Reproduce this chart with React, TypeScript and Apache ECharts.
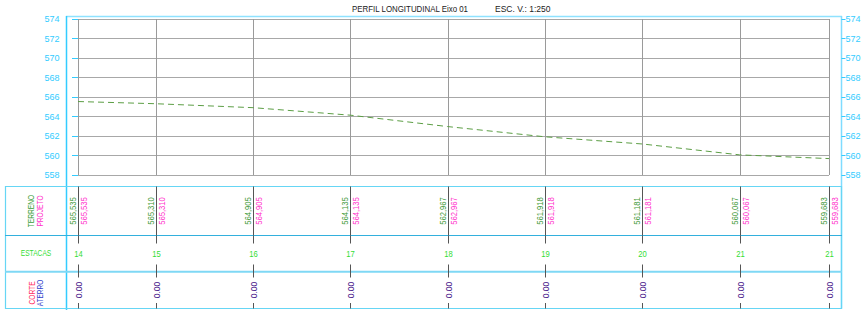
import React, { useEffect, useRef } from "react";
import * as echarts from "echarts";

const estacas = ["14", "15", "16", "17", "18", "19", "20", "21", "21"];
const distancias = [0, 16, 36, 56, 76, 96, 116, 136, 154.4];
const terreno = [565.535, 565.31, 564.905, 564.135, 562.967, 561.918, 561.181, 560.067, 559.683];
const projeto = [565.535, 565.31, 564.905, 564.135, 562.967, 561.918, 561.181, 560.067, 559.683];
const corteAterro = [0, 0, 0, 0, 0, 0, 0, 0, 0];
const yTicks = { min: 558, max: 574, interval: 2 };

const FONT = '"Liberation Sans", Arial, sans-serif';
const CYAN = "#33ccff";

export default function App() {
  const ref = useRef<HTMLDivElement>(null);
  useEffect(() => {
    document.body.style.margin = "0";
    const chart = echarts.init(ref.current!, null, { renderer: "svg" });
    const fmt = (v: number) => v.toFixed(3).replace(".", ",");
    const vline = (x: number, y1: number, y2: number, color: string) => ({
      type: "line",
      shape: { x1: x, y1, x2: x, y2 },
      style: { stroke: color, lineWidth: 1 },
    });
    const rtext = (x: number, y: number, text: string, color: string, size: number, va: string, sx = 1) => ({
      type: "text",
      x,
      y,
      rotation: Math.PI / 2,
      scaleX: sx,
      style: { text, fill: color, fontSize: size, fontFamily: FONT, align: "center", verticalAlign: va },
    });
    const htext = (x: number, y: number, text: string, color: string, size: number, sx = 1) => ({
      type: "text",
      x,
      y,
      scaleX: sx,
      style: { text, fill: color, fontSize: size, fontFamily: FONT, align: "center", verticalAlign: "middle" },
    });

    chart.setOption({
      animation: false,
      backgroundColor: "#ffffff",
      grid: { left: 78, right: 37, top: 19, bottom: 135, containLabel: false },
      xAxis: {
        type: "value",
        min: 0,
        max: distancias[distancias.length - 1],
        show: false,
        splitLine: { show: false },
      },
      yAxis: [
        {
          type: "value",
          position: "left",
          min: yTicks.min,
          max: yTicks.max,
          interval: yTicks.interval,
          offset: 11.5,
          axisLine: { show: false },
          axisTick: { show: true, length: 6, lineStyle: { color: CYAN } },
          axisLabel: { color: CYAN, fontSize: 9, fontFamily: FONT, margin: 7 },
          splitLine: { show: true, lineStyle: { color: "#a8a8a8", width: 1 } },
        },
        {
          type: "value",
          position: "right",
          min: yTicks.min,
          max: yTicks.max,
          interval: yTicks.interval,
          offset: 12.5,
          axisLine: { show: false },
          axisTick: { show: true, length: 4, lineStyle: { color: CYAN } },
          axisLabel: { color: CYAN, fontSize: 9, fontFamily: FONT, margin: 4 },
          splitLine: { show: false },
        },
      ],
      graphic: [
        { type: "text", x: 468, y: 9, scaleX: 0.93, style: { text: "PERFIL LONGITUDINAL Eixo 01", fill: "#222", fontSize: 8.5, fontFamily: FONT, align: "right", verticalAlign: "middle" } },
        { type: "text", x: 495, y: 9, style: { text: "ESC. V.: 1:250", fill: "#222", fontSize: 8.5, fontFamily: FONT, align: "left", verticalAlign: "middle" } },
        { type: "line", shape: { x1: 66, y1: 16.5, x2: 842, y2: 16.5 }, style: { stroke: "#8fe2ff", lineWidth: 1.5 } },
        { type: "line", shape: { x1: 66.5, y1: 16, x2: 66.5, y2: 310 }, style: { stroke: CYAN, lineWidth: 1.5 } },
        { type: "line", shape: { x1: 841.5, y1: 16, x2: 841.5, y2: 308.5 }, style: { stroke: "#7fdcff", lineWidth: 1.5 } },
        { type: "rect", shape: { x: 5.5, y: 186.5, width: 836, height: 122 }, style: { fill: "none", stroke: "#66d6f5", lineWidth: 1.2 } },
        { type: "line", shape: { x1: 5, y1: 235.5, x2: 842, y2: 235.5 }, style: { stroke: "#33b0dd", lineWidth: 1 } },
        { type: "line", shape: { x1: 5, y1: 271.8, x2: 842, y2: 271.8 }, style: { stroke: "#7fd8f5", lineWidth: 2 } },
        rtext(31.5, 211, "TERRENO", "#3a9e3a", 9.5, "middle", 0.7),
        rtext(40.5, 211, "PROJETO", "#ff33cc", 9.5, "middle", 0.7),
        htext(36, 253.5, "ESTACAS", "#33dd33", 9.5, 0.7),
        rtext(32, 293, "CORTE", "#ff3366", 9.5, "middle", 0.7),
        rtext(40.5, 293, "ATERRO", "#3344cc", 9.5, "middle", 0.68),
      ],
      series: [
        {
          type: "custom",
          coordinateSystem: "cartesian2d",
          clip: false,
          silent: true,
          data: distancias.map((d, i) => [d, terreno[i]]),
          renderItem: (params: any, api: any) => {
            const i = params.dataIndex;
            const top = api.coord([api.value(0), yTicks.max]);
            const bot = api.coord([api.value(0), yTicks.min]);
            const x = Math.round(top[0]) + 0.5;
            return {
              type: "group",
              children: [
                vline(x, top[1], bot[1], "#9a9a9a"),
                vline(x, 186.5, 235.5, "#555555"),
                vline(x, 235.5, 243.5, "#555555"),
                vline(x, 264.5, 272, "#555555"),
                vline(x, 272, 277.5, "#555555"),
                vline(x, 303, 308.5, "#555555"),
                rtext(x - 1, 211, fmt(terreno[i]), "#3f9a3a", 9, "bottom", 0.85),
                rtext(x + 1, 211, fmt(projeto[i]), "#ff33cc", 9, "top", 0.85),
                htext(x, 254, estacas[i], "#33dd33", 9, 0.85),
                rtext(x, 290, corteAterro[i].toFixed(2), "#4b1a8c", 9, "middle", 0.95),
              ],
            };
          },
          z: 1,
        },
        {
          type: "line",
          data: distancias.map((d, i) => [d, terreno[i]]),
          symbol: "none",
          lineStyle: { color: "#5c9e45", width: 1, type: [6, 4] },
          z: 3,
        },
      ],
    });
    return () => chart.dispose();
  }, []);
  return <div ref={ref} style={{ width: 866, height: 310 }} />;
}
